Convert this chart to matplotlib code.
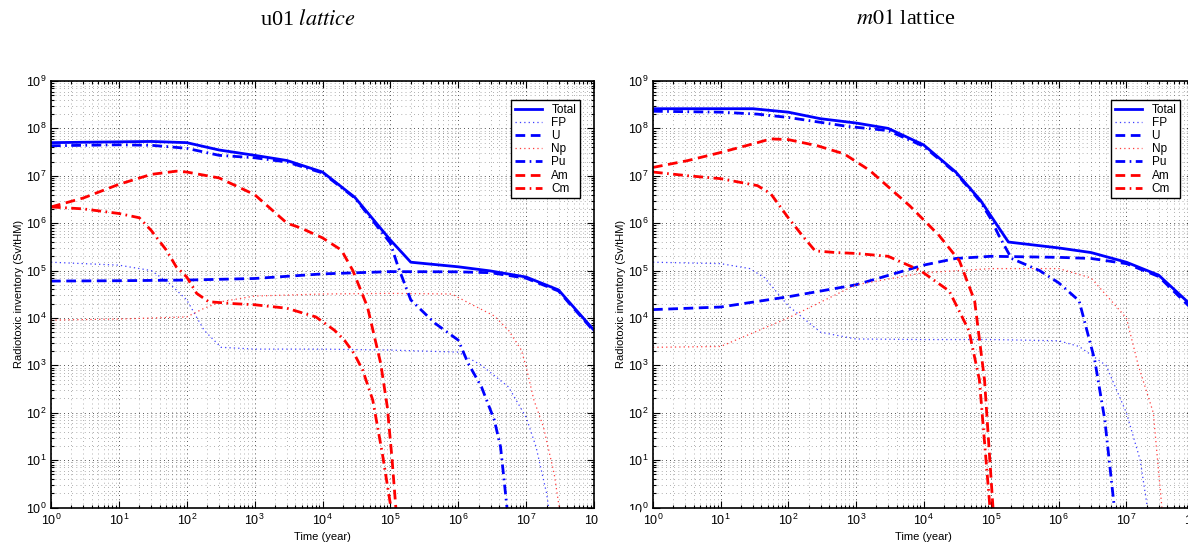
import numpy as np
import matplotlib
matplotlib.use("Agg")
import matplotlib.pyplot as plt
from matplotlib.ticker import LogLocator, NullFormatter
from matplotlib.patches import Rectangle

plt.rcParams['font.family'] = ['Liberation Sans', 'DejaVu Sans']
plt.rcParams['mathtext.fontset'] = 'custom'
plt.rcParams['mathtext.rm'] = 'Liberation Sans'

# ---- u01 lattice (left) ----
u_total_t = [1, 3, 10, 30, 100, 300, 1e3, 3e3, 1e4, 3e4, 1e5, 2e5, 1e6, 3e6, 1e7, 3e7, 1e8]
u_total_v = [5.0e7, 5.1e7, 5.2e7, 5.3e7, 5.0e7, 3.5e7, 2.7e7, 2.1e7, 1.2e7, 3.5e6, 4.4e5, 1.5e5, 1.2e5, 9.8e4, 7.3e4, 3.9e4, 5.5e3]
u_fp_t = [1, 10, 30, 55, 100, 180, 320, 1e3, 1e4, 1e5, 1e6, 2.2e6, 5.5e6, 1e7, 1.4e7, 2e7, 2.3e7]
u_fp_v = [1.5e5, 1.3e5, 1.0e5, 5.4e4, 2.4e4, 5.5e3, 2.4e3, 2.2e3, 2.2e3, 2.1e3, 1.9e3, 1.0e3, 350, 80, 19, 2, 0.5]
u_u_t = [1, 10, 100, 1e3, 1e4, 1e5, 1e6, 3e6, 1e7, 3e7, 1e8]
u_u_v = [6.0e4, 6.1e4, 6.3e4, 6.8e4, 8.5e4, 9.5e4, 9.4e4, 9.0e4, 6.9e4, 3.7e4, 5.2e3]
u_np_t = [1, 10, 100, 180, 320, 1e3, 1e4, 1e5, 8e5, 1.4e6, 3.4e6, 5.5e6, 8.5e6, 1e7, 1.3e7, 1.8e7, 2.6e7, 3.3e7]
u_np_v = [9e3, 9.5e3, 1.05e4, 1.6e4, 2.2e4, 2.9e4, 3.2e4, 3.3e4, 3.2e4, 2.1e4, 1.1e4, 5.5e3, 2.1e3, 930, 186, 50, 5, 0.5]
u_pu_t = [1, 10, 30, 100, 300, 1e3, 3e3, 1e4, 3e4, 1e5, 1.3e5, 2e5, 4.5e5, 1e6, 1.4e6, 2.2e6, 3.4e6, 4.2e6, 5.5e6]
u_pu_v = [4.3e7, 4.5e7, 4.4e7, 3.8e7, 2.7e7, 2.4e7, 1.95e7, 1.15e7, 3.4e6, 3.8e5, 1.2e5, 2.4e4, 7.8e3, 3.4e3, 1.1e3, 350, 70, 19, 0.5]
u_am_t = [1, 3, 10, 30, 70, 100, 300, 1e3, 3e3, 4.8e3, 1e4, 1.9e4, 2.8e4, 4.6e4, 7.2e4, 9e4, 1.05e5, 1.25e5]
u_am_v = [2.2e6, 3.4e6, 6.6e6, 1.07e7, 1.25e7, 1.2e7, 9e6, 4e6, 1e6, 7.9e5, 4.9e5, 2.7e5, 1e5, 1.7e4, 1.1e3, 134, 12, 0.5]
u_cm_t = [1, 3, 10, 20, 30, 50, 70, 100, 140, 210, 500, 1e3, 3e3, 8e3, 1.5e4, 2.1e4, 2.9e4, 3.9e4, 5.5e4, 7.6e4, 1.1e5]
u_cm_v = [2.2e6, 2.0e6, 1.6e6, 1.3e6, 7e5, 2.7e5, 1.2e5, 7.3e4, 3.3e4, 2.2e4, 2.0e4, 1.9e4, 1.6e4, 1.05e4, 5.5e3, 3.4e3, 1.8e3, 800, 185, 14, 0.5]

# ---- m01 lattice (right) ----
m_total_t = [1, 10, 30, 100, 300, 1e3, 3e3, 1e4, 3e4, 7e4, 1e5, 1.8e5, 1e6, 3e6, 1e7, 3e7, 8e7, 1e8]
m_total_v = [2.6e8, 2.6e8, 2.6e8, 2.2e8, 1.6e8, 1.3e8, 1.0e8, 4.5e7, 1.2e7, 3e6, 1.4e6, 4e5, 3e5, 2.4e5, 1.5e5, 8e4, 2.2e4, 1.5e4]
m_fp_t = [1, 10, 27, 45, 70, 100, 300, 1e3, 1e4, 1e5, 1e6, 2e6, 5e6, 1e7, 1.6e7, 2.2e7]
m_fp_v = [1.5e5, 1.4e5, 1.1e5, 7e4, 3.3e4, 1.8e4, 5e3, 3.6e3, 3.5e3, 3.5e3, 3.3e3, 2.5e3, 1e3, 100, 10, 0.5]
m_u_t = [1, 10, 100, 1e3, 1e4, 3e4, 1e5, 1e6, 3e6, 1e7, 3e7, 1e8]
m_u_v = [1.5e4, 1.7e4, 2.8e4, 5e4, 1.3e5, 1.8e5, 2e5, 1.9e5, 1.8e5, 1.4e5, 7.5e4, 1.4e4]
m_np_t = [1, 10, 100, 1e3, 1e4, 1e5, 1e6, 3e6, 1e7, 1.5e7, 2.5e7, 3.5e7]
m_np_v = [2.4e3, 2.5e3, 1e4, 5e4, 9e4, 1.1e5, 1.1e5, 7e4, 1e4, 1e3, 100, 0.5]
m_pu_t = [1, 10, 35, 100, 760, 3e3, 1e4, 3e4, 7e4, 1e5, 1.3e5, 2e5, 5.2e5, 1e6, 2e6, 3.4e6, 4.8e6, 7e6]
m_pu_v = [2.3e8, 2.2e8, 2e8, 1.7e8, 1.1e8, 9e7, 4.2e7, 1.15e7, 2.8e6, 1.2e6, 5.5e5, 1.8e5, 1e5, 5.5e4, 2.3e4, 1.3e3, 70, 0.5]
m_am_t = [1, 3.3, 10, 35, 55, 100, 270, 670, 1.6e3, 6.3e3, 1.7e4, 3.4e4, 5.7e4, 8e4, 1.1e5]
m_am_v = [1.5e7, 2.1e7, 3.1e7, 5e7, 6e7, 5.8e7, 4.3e7, 2.9e7, 1.3e7, 2.3e6, 5.5e5, 1.6e5, 2.3e4, 480, 0.5]
m_cm_t = [1, 3.3, 10, 35, 55, 100, 170, 250, 500, 1e3, 3e3, 9e3, 2.4e4, 4.7e4, 6.7e4, 1e5]
m_cm_v = [1.2e7, 1e7, 8.7e6, 6.2e6, 4.2e6, 1.3e6, 5e5, 2.6e5, 2.4e5, 2.3e5, 2e5, 1e5, 3.7e4, 5.4e3, 500, 0.5]

labels = ['Total', 'FP', 'U', 'Np', 'Pu', 'Am', 'Cm']
styles = [dict(color='#0000ff', ls='-', lw=2.0),
          dict(color='#3c3cff', ls=(0, (1, 2.5)), lw=0.9),
          dict(color='#0000ff', ls=(0, (3.5, 2)), lw=2.0),
          dict(color='#ff3c3c', ls=(0, (1, 2.5)), lw=0.9),
          dict(color='#0000ff', ls=(0, (3.5, 1.6, 0.6, 1.6)), lw=2.0),
          dict(color='#ff0000', ls=(0, (3.5, 2)), lw=2.0),
          dict(color='#ff0000', ls=(0, (3.5, 1.6, 0.6, 1.6)), lw=2.0)]

u_series = [(u_total_t, u_total_v), (u_fp_t, u_fp_v), (u_u_t, u_u_v), (u_np_t, u_np_v),
            (u_pu_t, u_pu_v), (u_am_t, u_am_v), (u_cm_t, u_cm_v)]
m_series = [(m_total_t, m_total_v), (m_fp_t, m_fp_v), (m_u_t, m_u_v), (m_np_t, m_np_v),
            (m_pu_t, m_pu_v), (m_am_t, m_am_v), (m_cm_t, m_cm_v)]

fig = plt.figure(figsize=(11.88, 5.52), dpi=100)
ax1 = fig.add_axes([51/1188, 44.5/552, 543/1188, 426.5/552])
ax2 = fig.add_axes([653/1188, 44.5/552, 541/1188, 426.5/552])

for ax, series in [(ax1, u_series), (ax2, m_series)]:
    for (t, v), lab, st in zip(series, labels, styles):
        ax.plot(t, v, label=lab, **st)
    ax.set_xscale('log')
    ax.set_yscale('log')
    ax.set_xlim(1, 1e8)
    ax.set_ylim(1, 1e9)
    ax.xaxis.set_major_locator(LogLocator(base=10, numticks=20))
    ax.yaxis.set_major_locator(LogLocator(base=10, numticks=20))
    ax.xaxis.set_minor_locator(LogLocator(base=10, subs=np.arange(2, 10), numticks=200))
    ax.yaxis.set_minor_locator(LogLocator(base=10, subs=np.arange(2, 10), numticks=200))
    ax.xaxis.set_minor_formatter(NullFormatter())
    ax.yaxis.set_minor_formatter(NullFormatter())
    ax.grid(True, which='major', color='black', ls=(0, (1, 4)), lw=0.6, alpha=0.9)
    ax.grid(True, which='minor', color='black', ls=(0, (1, 5)), lw=0.5, alpha=0.6)
    ax.tick_params(which='both', direction='in', top=True, right=True, labelsize=9, width=0.8)
    ax.tick_params(which='major', length=5)
    ax.tick_params(which='minor', length=2.5)
    for sp in ax.spines.values():
        sp.set_linewidth(1.2)
    ax.set_xlabel('Time (year)', fontsize=8, labelpad=3)
    ax.set_ylabel('Radiotoxic inventory (Sv/tHM)', fontsize=8, labelpad=1)
    leg = ax.legend(loc='upper right', bbox_to_anchor=(0.974, 0.955), borderaxespad=0,
                    fontsize=8.5, frameon=True, fancybox=False, edgecolor='black',
                    framealpha=1, handlelength=2.3, borderpad=0.3, labelspacing=0.1,
                    handletextpad=0.8)
    leg.get_frame().set_linewidth(1.0)

# hide the clipped tick label between the two panels
fig.patches.append(Rectangle((598/1188, 0), 42/1188, 42/552, transform=fig.transFigure,
                             facecolor='white', edgecolor='none', zorder=10))

fig.text(308/1188, 1 - 20/552, 'u01 $\\mathit{lattice}$', ha='center', va='center',
         fontsize=16, family='Liberation Serif', math_fontfamily='stix')
fig.text(906/1188, 1 - 20/552, '$\\mathit{m01}$ lattice', ha='center', va='center',
         fontsize=16, family='Liberation Serif', math_fontfamily='stix')

fig.savefig('out.png', dpi=100)
